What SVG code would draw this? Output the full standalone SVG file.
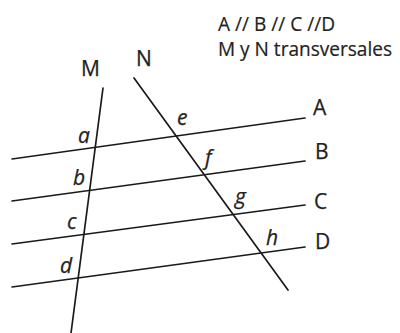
<svg xmlns="http://www.w3.org/2000/svg" width="400" height="333" viewBox="0 0 400 333">
<style>
.ln{stroke:#1a1a1a;stroke-width:1.7;fill:none;stroke-linecap:round}
.t{font-family:"Open Sans","Noto Sans","Liberation Sans",sans-serif;fill:#222;font-size:21px;stroke:#222;stroke-width:0.25}
.lg{font-family:"Open Sans","Noto Sans","Liberation Sans",sans-serif;fill:#222;font-size:19.5px;stroke:#222;stroke-width:0.2}
.i{font-family:"Open Sans","Noto Sans","Liberation Sans",sans-serif;fill:#222;font-size:21px;font-style:italic;stroke:#222;stroke-width:0.25}
</style>
<rect width="400" height="333" fill="#ffffff"/>
<g id="legend">
<text class="lg" x="218" y="31" textLength="117" lengthAdjust="spacingAndGlyphs">A // B // C //D</text>
<text class="lg" x="218" y="56" textLength="174" lengthAdjust="spacingAndGlyphs">M y N transversales</text>
</g>
<g id="connectors">
<line id="lineA" class="ln" x1="12" y1="159" x2="305" y2="118"/>
<line id="lineB" class="ln" x1="12" y1="201" x2="305" y2="161"/>
<line id="lineC" class="ln" x1="12" y1="244" x2="305" y2="205"/>
<line id="lineD" class="ln" x1="12" y1="287" x2="305" y2="247"/>
<line id="lineM" class="ln" x1="103" y1="88" x2="71" y2="333"/>
<line id="lineN" class="ln" x1="134" y1="78" x2="288" y2="290"/>
</g>
<g id="label-M"><text class="t" x="81" y="76">M</text></g>
<g id="label-N"><text class="t" x="136" y="66">N</text></g>
<g id="label-A"><text class="t" x="313" y="115">A</text></g>
<g id="label-B"><text class="t" x="315" y="159">B</text></g>
<g id="label-C"><text class="t" x="314" y="209">C</text></g>
<g id="label-D"><text class="t" x="315" y="249">D</text></g>
<g id="label-a"><text class="i" x="78" y="143">a</text></g>
<g id="label-b"><text class="i" x="73" y="185">b</text></g>
<g id="label-c"><text class="i" x="67" y="229">c</text></g>
<g id="label-d"><text class="i" x="60" y="273">d</text></g>
<g id="label-e"><text class="i" x="177" y="125">e</text></g>
<g id="label-f"><text class="i" x="205" y="165">f</text></g>
<g id="label-g"><text class="i" x="235" y="204">g</text></g>
<g id="label-h"><text class="i" x="266" y="245">h</text></g>
</svg>
